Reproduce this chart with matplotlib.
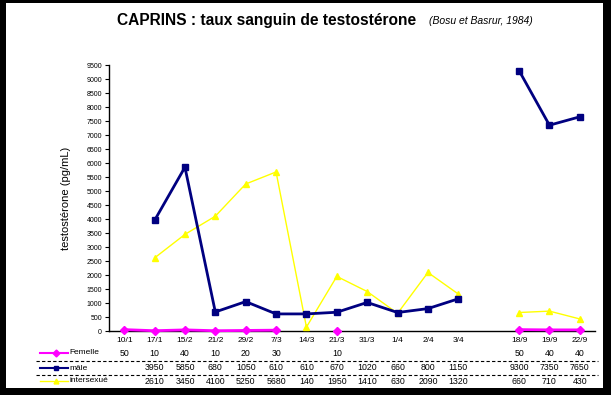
import numpy as np
import matplotlib
matplotlib.use("Agg")
import matplotlib.pyplot as plt
from matplotlib.patches import Rectangle
from matplotlib.lines import Line2D

plt.rcParams['font.family'] = ['Liberation Sans', 'DejaVu Sans']

dates = ["10/1", "17/1", "15/2", "21/2", "29/2", "7/3", "14/3", "21/3", "31/3",
         "1/4", "2/4", "3/4", "", "18/9", "19/9", "22/9"]
nan = np.nan
femelle = [50, 10, 40, 10, 20, 30, nan, 10, nan, nan, nan, nan, nan, 50, 40, 40]
male = [nan, 3950, 5850, 680, 1050, 610, 610, 670, 1020, 660, 800, 1150, nan, 9300, 7350, 7650]
intersexue = [nan, 2610, 3450, 4100, 5250, 5680, 140, 1950, 1410, 630, 2090, 1320, nan, 660, 710, 430]
yticks = list(range(0, 10000, 500))

W, H = 611, 395
fig = plt.figure(figsize=(W / 100, H / 100), dpi=100, facecolor='black')
fig.patches.append(Rectangle((6 / W, 1 - 388 / H), (603 - 6) / W, (388 - 3) / H,
                             transform=fig.transFigure, facecolor='white', edgecolor='none', zorder=-10))

ax = fig.add_axes([109 / W, 1 - 331 / H, (595 - 109) / W, (331 - 65) / H])
ax.set_zorder(5)
ax.set_facecolor('none')
x = np.arange(len(dates))

ax.plot(x, intersexue, color='#FFFF00', lw=1, marker='^', ms=5, mec='#FFFF00', mfc='#FFFF00', zorder=3)
ax.plot(x, male, color='#000080', lw=2, marker='s', ms=5, mec='#000080', mfc='#000080', zorder=4)
ax.plot(x, femelle, color='#FF00FF', lw=2, marker='D', ms=4, mec='#FF00FF', mfc='#FF00FF', zorder=5, clip_on=False)

ax.set_xlim(-0.5, 15.5)
ax.set_ylim(0, 9500)
ax.set_yticks(yticks)
ax.set_yticklabels([str(v) for v in yticks], fontsize=5)
ax.set_xticks(x)
ax.set_xticklabels(dates, fontsize=6)
ax.tick_params(axis='x', length=0, pad=4)
ax.tick_params(axis='y', length=3, width=0.8, pad=2)
for s in ['top', 'right']:
    ax.spines[s].set_visible(False)
for s in ['left', 'bottom']:
    ax.spines[s].set_linewidth(1)
ax.set_ylabel("testostérone (pg/mL)", fontsize=8, labelpad=11)

# Title
fig.text(117 / W, 1 - 20 / H, "CAPRINS : taux sanguin de testostérone", fontsize=11.2,
         fontweight='bold', ha='left', va='center')
fig.text(429 / W, 1 - 21 / H, "(Bosu et Basrur, 1984)", fontsize=7.5, style='italic',
         ha='left', va='center')

# Data table
rows = [("Femelle", femelle, '#FF00FF', 'D', 353),
        ("mâle", male, '#000080', 's', 368),
        ("intersexué", intersexue, '#FFFF00', '^', 381)]
for label, vals, col, mk, py in rows:
    yy = 1 - py / H
    fig.add_artist(Line2D([40 / W, 68 / W], [yy, yy], color=col, lw=1.5 if col != '#FFFF00' else 1,
                          transform=fig.transFigure))
    fig.add_artist(Line2D([56 / W], [yy], color=col, marker=mk, ms=3.5, mec=col, mfc=col,
                          transform=fig.transFigure))
    fig.text(69 / W, yy, label, fontsize=6, ha='left', va='center')
    for i, v in enumerate(vals):
        if not np.isnan(v):
            xd = ax.transData.transform((i, 0))[0]
            fig.text(xd / W, yy, f"{int(v)}", fontsize=6.3, ha='center', va='center')

for py in (361, 375):
    yy = 1 - py / H
    fig.add_artist(Line2D([36 / W, 598 / W], [yy, yy], color='black', lw=0.8,
                          linestyle=(0, (3, 2)), transform=fig.transFigure))

fig.savefig("out.png", dpi=100, facecolor='black')
